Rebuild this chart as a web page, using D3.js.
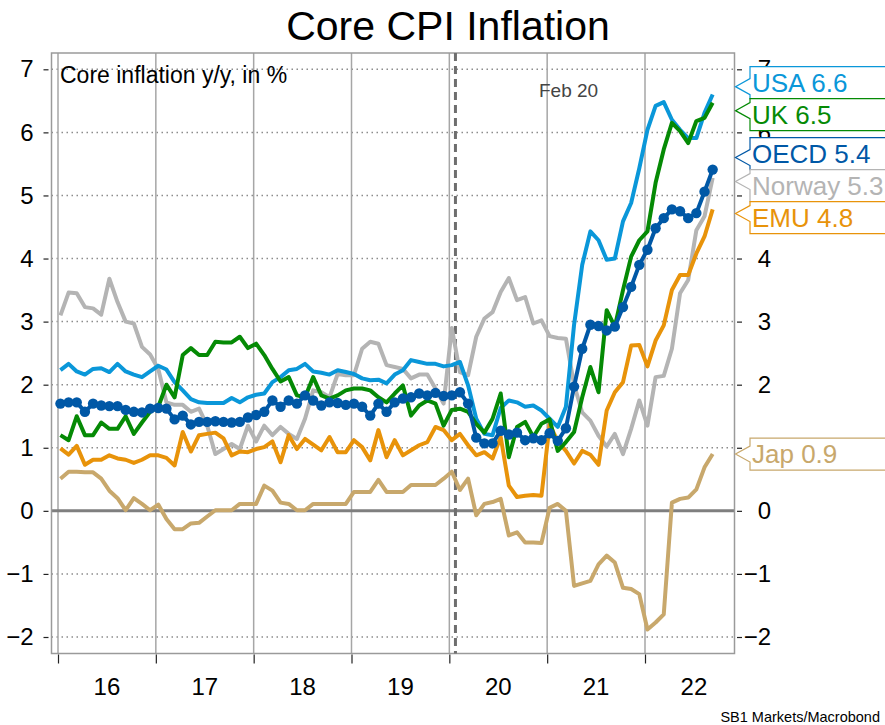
<!DOCTYPE html>
<html><head><meta charset="utf-8">
<script src="https://cdn.jsdelivr.net/npm/d3@7/dist/d3.min.js"></script>
<style>body{margin:0;background:#fff}svg{display:block;font-family:"Liberation Sans",Arial,Helvetica,sans-serif}</style>
</head><body><svg id="c" width="885" height="725"></svg>
<script>
// Monthly data, Jan 2016 .. Sep 2022, core inflation y/y in %
const firstYear = 2016;
const usa = [2.23,2.33,2.21,2.16,2.25,2.26,2.20,2.33,2.21,2.16,2.12,2.21,
  2.30,2.24,2.04,1.91,1.77,1.72,1.71,1.71,1.71,1.79,1.72,1.80,
  1.84,1.86,2.04,2.12,2.23,2.25,2.33,2.21,2.19,2.16,2.23,2.20,
  2.17,2.10,2.07,2.08,2.02,2.16,2.23,2.39,2.36,2.33,2.33,2.29,
  2.31,2.36,1.99,1.46,1.22,1.20,1.63,1.75,1.72,1.65,1.67,1.59,
  1.46,1.33,1.65,2.95,3.90,4.43,4.29,3.98,4.00,4.59,4.88,5.43,
  6.04,6.42,6.48,6.20,6.04,5.91,5.91,6.31,6.60];
const uk = [1.20,1.12,1.50,1.20,1.20,1.40,1.30,1.30,1.50,1.22,1.40,1.57,
  1.65,2.00,1.80,2.47,2.58,2.47,2.47,2.68,2.67,2.67,2.76,2.58,
  2.65,2.47,2.25,2.05,2.12,1.83,1.80,2.12,1.83,1.78,1.83,1.91,
  1.94,1.94,1.91,1.80,1.72,1.86,1.99,1.51,1.67,1.75,1.70,1.35,
  1.60,1.62,1.57,1.38,1.24,1.46,1.86,0.85,1.33,1.41,1.17,1.38,
  1.45,0.95,1.09,1.25,1.80,2.28,1.88,3.18,2.92,3.50,4.03,4.29,
  4.43,5.20,5.73,6.15,6.02,5.83,6.18,6.23,6.47];
const oecd = [1.70,1.72,1.72,1.57,1.70,1.67,1.66,1.66,1.60,1.57,1.56,1.62,
  1.63,1.62,1.45,1.51,1.37,1.41,1.41,1.42,1.41,1.40,1.41,1.48,
  1.52,1.57,1.75,1.65,1.75,1.70,1.83,1.75,1.67,1.72,1.71,1.68,
  1.70,1.65,1.51,1.70,1.57,1.72,1.78,1.80,1.86,1.83,1.87,1.82,
  1.83,1.88,1.70,1.16,1.07,1.07,1.27,1.21,1.24,1.12,1.15,1.12,
  1.23,1.11,1.31,1.97,2.57,2.95,2.93,2.86,2.92,3.23,3.55,3.90,
  4.14,4.48,4.64,4.78,4.75,4.64,4.72,5.06,5.41];
const norway = [3.10,3.46,3.45,3.23,3.21,3.11,3.68,3.31,3.00,2.97,2.60,2.48,
  2.25,1.72,1.68,1.68,1.57,1.62,1.35,0.90,0.98,1.06,0.98,1.35,
  1.10,1.35,1.20,1.33,1.22,1.14,1.46,1.91,1.88,1.80,2.17,2.15,
  2.15,2.57,2.68,2.65,2.31,2.28,2.25,2.10,2.16,2.16,1.94,1.70,
  2.90,2.20,2.15,2.76,3.05,3.15,3.47,3.69,3.34,3.39,2.97,3.02,
  2.77,2.74,2.73,2.00,1.56,1.43,1.19,1.02,1.22,0.90,1.30,1.75,
  1.35,2.12,2.14,2.57,3.45,3.66,4.45,4.67,5.28];
const emu = [0.99,0.89,1.03,0.73,0.81,0.81,0.88,0.83,0.81,0.76,0.81,0.88,
  0.88,0.84,0.72,1.25,0.94,1.20,1.22,1.24,1.15,0.88,0.94,0.93,
  0.98,1.01,1.10,0.77,1.20,0.98,1.14,1.05,0.96,1.17,0.93,0.93,
  1.12,1.01,0.80,1.28,0.85,1.12,0.88,0.96,1.04,1.09,1.33,1.28,
  1.12,1.22,1.04,0.88,0.93,0.83,1.17,0.40,0.22,0.24,0.25,0.24,
  1.37,1.10,0.95,0.75,0.95,0.89,0.73,1.59,1.88,2.04,2.62,2.63,
  2.29,2.70,2.94,3.50,3.74,3.74,4.08,4.35,4.78];
const japan = [0.51,0.62,0.62,0.61,0.61,0.51,0.32,0.20,0.01,0.20,0.11,0.01,
  0.10,-0.13,-0.29,-0.29,-0.20,-0.19,-0.09,0.01,0.01,0.01,0.11,0.11,
  0.11,0.40,0.32,0.13,0.11,0.01,0.01,0.11,0.11,0.11,0.11,0.11,
  0.30,0.30,0.30,0.49,0.30,0.30,0.30,0.41,0.41,0.41,0.41,0.51,
  0.62,0.33,0.51,-0.07,0.11,0.14,0.19,-0.39,-0.34,-0.50,-0.50,-0.51,
  0.05,0.11,0.00,-1.19,-1.15,-1.11,-0.85,-0.71,-0.82,-1.22,-1.24,-1.32,
  -1.88,-1.77,-1.64,0.13,0.19,0.21,0.34,0.69,0.90];

const seriesNames = ["Jap","Norway","EMU","USA","UK","OECD"];
const seriesColors = ["#c8a86c","#b4b4b4","#e8930a","#0a97d9","#058a05","#0058a6"];
const seriesValues = [japan, norway, emu, usa, uk, oecd];

const yTicks = [-2,-1,0,1,2,3,4,5,6,7];
const gridYears = [2016,2017,2018,2019,2020,2021,2022];
const yearLabels = ["16","17","18","19","20","21","22"];
const eventDate = 2020 + 0.75/12;   // Feb 20 marker
const eventLabel = "Feb 20";
const title = "Core CPI Inflation";
const subtitle = "Core inflation y/y, in %";
const source = "SB1 Markets/Macrobond";

// ---------- layout ----------
const svg = d3.select("#c");
const L = 51.5, R = 734.5, T = 53, B = 653.5;
const x = d3.scaleLinear().domain([2016, 2022]).range([58, 645]);
const y = d3.scaleLinear().domain([-2, 7]).range([637, 69.3]);
const dateOf = i => firstYear + (i + 0.3) / 12;

// title
svg.append("text").attr("x", 448).attr("y", 40).attr("text-anchor","middle")
  .attr("font-size", 41).attr("fill","#000").text(title);

// horizontal dotted grid
svg.append("g").selectAll("line").data(yTicks.filter(d => d !== 0)).join("line")
  .attr("x1", L).attr("x2", R).attr("y1", d => y(d)).attr("y2", d => y(d))
  .attr("stroke","#8c8c8c").attr("stroke-width",1.5).attr("stroke-dasharray","1.5,3.5");

// vertical year grid
svg.append("g").selectAll("line").data(gridYears).join("line")
  .attr("x1", d => x(d)).attr("x2", d => x(d)).attr("y1", T).attr("y2", B)
  .attr("stroke","#a6a6a6").attr("stroke-width",1.5);

// zero line
svg.append("line").attr("x1", L).attr("x2", R).attr("y1", y(0)).attr("y2", y(0))
  .attr("stroke","#7f7f7f").attr("stroke-width",3);

// frame
svg.append("rect").attr("x", L).attr("y", T).attr("width", R - L).attr("height", B - T)
  .attr("fill","none").attr("stroke","#9a9a9a").attr("stroke-width",1.5);

// axes
const leftAxis = d3.axisLeft(y).tickValues(yTicks).tickSize(5).tickPadding(10).tickFormat(d3.format("d"));
const gl = svg.append("g").attr("transform", `translate(${L-3},0)`).call(leftAxis);
const rightAxis = d3.axisRight(y).tickValues(yTicks).tickSize(5).tickPadding(8).tickFormat(d3.format("d"));
const gr = svg.append("g").attr("transform", `translate(${R+2.5},0)`).call(rightAxis);
[gl, gr].forEach(g => {
  g.select(".domain").remove();
  g.selectAll(".tick line").attr("stroke","#222").attr("stroke-width",1.2);
  g.selectAll(".tick text").attr("font-size",24).attr("fill","#000").attr("font-family",null);
});
gl.selectAll(".tick text").attr("text-anchor","end");
gr.selectAll(".tick text").attr("text-anchor","end").attr("x", 34);

const bottomAxis = d3.axisBottom(x).tickValues(gridYears).tickSize(9).tickFormat("");
const gb = svg.append("g").attr("transform", `translate(0,${B+1})`).call(bottomAxis);
gb.select(".domain").remove();
gb.selectAll(".tick line").attr("stroke","#222").attr("stroke-width",1.2);
svg.append("g").selectAll("text").data(gridYears).join("text")
  .attr("x", d => x(d + 0.5)).attr("y", 695).attr("text-anchor","middle")
  .attr("font-size",24).attr("fill","#000").text((d,i) => yearLabels[i]);

// event marker
svg.append("line").attr("x1", x(eventDate)).attr("x2", x(eventDate)).attr("y1", T).attr("y2", B)
  .attr("stroke","#6e6e6e").attr("stroke-width",3).attr("stroke-dasharray","8,5");
svg.append("text").attr("x", 539).attr("y", 97).attr("font-size",19).attr("fill","#444").text(eventLabel);

// subtitle
svg.append("text").attr("x", 60).attr("y", 83).attr("font-size",23).attr("fill","#000").text(subtitle);

// series
const line = d3.line().x((d,i) => x(dateOf(i))).y(d => y(d));
seriesValues.forEach((vals, k) => {
  svg.append("path").datum(vals).attr("d", line).attr("fill","none")
    .attr("stroke", seriesColors[k]).attr("stroke-width",4).attr("stroke-linejoin","round");
  if (seriesNames[k] === "OECD") {
    svg.append("g").selectAll("circle").data(vals).join("circle")
      .attr("cx", (d,i) => x(dateOf(i))).attr("cy", d => y(d)).attr("r",5.2)
      .attr("fill", seriesColors[k]);
  }
});

// end labels with pointer boxes
const H = 32, BX = 750;
let labels = seriesNames.map((n, k) => {
  const v = seriesValues[k][seriesValues[k].length - 1];
  return {name: n, color: seriesColors[k], v, c: y(v)};
}).sort((a,b) => a.c - b.c);
// cluster to avoid overlap
let clusters = labels.map(l => ({items:[l], center:l.c}));
let changed = true;
while (changed) {
  changed = false;
  for (let i = 0; i < clusters.length - 1; i++) {
    const a = clusters[i], b = clusters[i+1];
    const aBot = a.center + a.items.length * H / 2;
    const bTop = b.center - b.items.length * H / 2;
    if (aBot > bTop) {
      const items = a.items.concat(b.items);
      const center = d3.mean(items, d => d.c) ;
      clusters.splice(i, 2, {items, center});
      changed = true; break;
    }
  }
}
clusters.forEach(cl => {
  let top = cl.center - cl.items.length * H / 2;
  cl.items.forEach((l, j) => { l.top = top + j * H; });
});
labels.forEach(l => {
  const top = l.top, bot = l.top + H;
  const tip = Math.max(top + 12, Math.min(bot - 12, l.c));
  const p = `M${BX},${top} H${900} V${bot} H${BX} V${tip+8} L${R+1},${tip} L${BX},${tip-8} Z`;
  svg.append("path").attr("d", p).attr("fill","#fff").attr("stroke", l.color).attr("stroke-width",1.2);
  svg.append("text").attr("x", BX + 2).attr("y", top + 25).attr("font-size",26)
    .attr("fill", l.color).text(`${l.name} ${d3.format(".1f")(l.v)}`);
});

// source
svg.append("text").attr("x", 880).attr("y", 722).attr("text-anchor","end")
  .attr("font-size",14.5).attr("fill","#000").text(source);
</script></body></html>
